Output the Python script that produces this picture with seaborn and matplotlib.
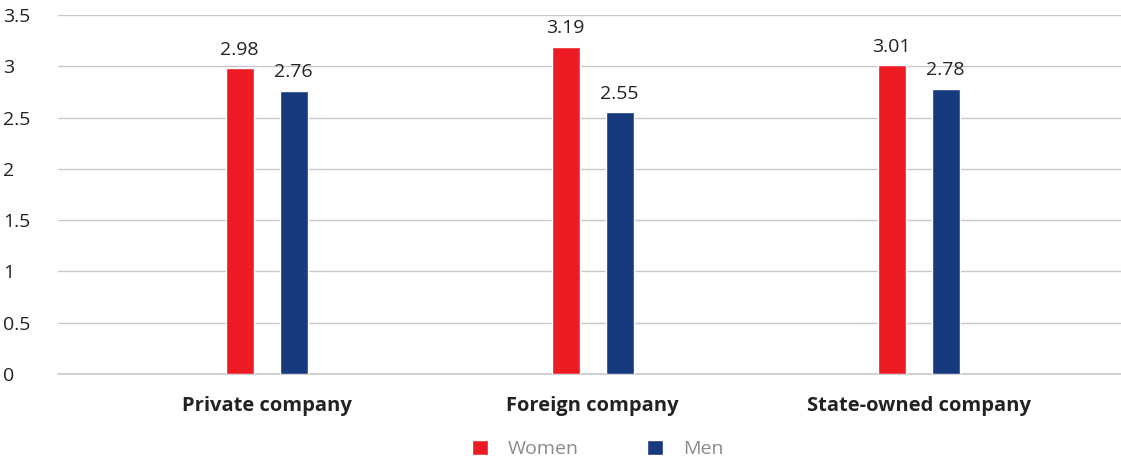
import matplotlib
matplotlib.use('Agg')
import matplotlib.pyplot as plt
import seaborn as sns
import pandas as pd
from matplotlib.patches import Patch

# data
categories = ['Private company', 'Foreign company', 'State-owned company']
women = [2.98, 3.19, 3.01]
men = [2.76, 2.55, 2.78]
series = ['Women', 'Men']
colors = {'Women': '#ed1c24', 'Men': '#173a7e'}

df = pd.DataFrame({
    'company': categories * 2,
    'value': women + men,
    'sex': ['Women'] * 3 + ['Men'] * 3,
})

sns.set_theme(style='white')
plt.rcParams['font.family'] = ['Open Sans', 'DejaVu Sans']

fig = plt.figure(figsize=(11.21, 4.62), dpi=100)
ax = fig.add_axes([0.0517, 0.1905, 0.9483, 0.777])

sns.barplot(data=df, x='company', y='value', hue='sex', order=categories,
            hue_order=series, palette=colors, width=0.331, gap=0.48,
            saturation=1, ax=ax, legend=False)

for cont in ax.containers:
    ax.bar_label(cont, fmt='%.2f', padding=7, fontsize=14, color='#222222')

ax.set_ylim(0, 3.5)
ax.set_yticks([0, 0.5, 1, 1.5, 2, 2.5, 3, 3.5])
ax.set_yticklabels(['0', '0.5', '1', '1.5', '2', '2.5', '3', '3.5'])
ax.set_xlim(-0.640, 2.621)
ax.grid(axis='y', color='#c8c8c8', linewidth=1)
ax.axhline(0, color='#c8c8c8', linewidth=1.2, clip_on=False, zorder=0.5)
ax.set_axisbelow(True)
for s in ax.spines.values():
    s.set_visible(False)
ax.set_xlabel('')
ax.set_ylabel('')
ax.tick_params(axis='y', labelsize=14, labelcolor='#222222', pad=39.6, length=0)
for lbl in ax.get_yticklabels():
    lbl.set_horizontalalignment('left')
ax.tick_params(axis='x', labelsize=14.5, labelcolor='#222222', pad=16, length=0)
for lbl in ax.get_xticklabels():
    lbl.set_fontweight('bold')

handles = [Patch(facecolor=colors[s], label=s) for s in series]
leg = fig.legend(handles=handles, loc='center', bbox_to_anchor=(0.533, 0.028),
                 ncol=2, frameon=False, fontsize=14, handlelength=0.85,
                 handleheight=0.85, handletextpad=1.0, columnspacing=3.5)
for t in leg.get_texts():
    t.set_color('#8a8a8a')

fig.savefig('out.png', dpi=100)
